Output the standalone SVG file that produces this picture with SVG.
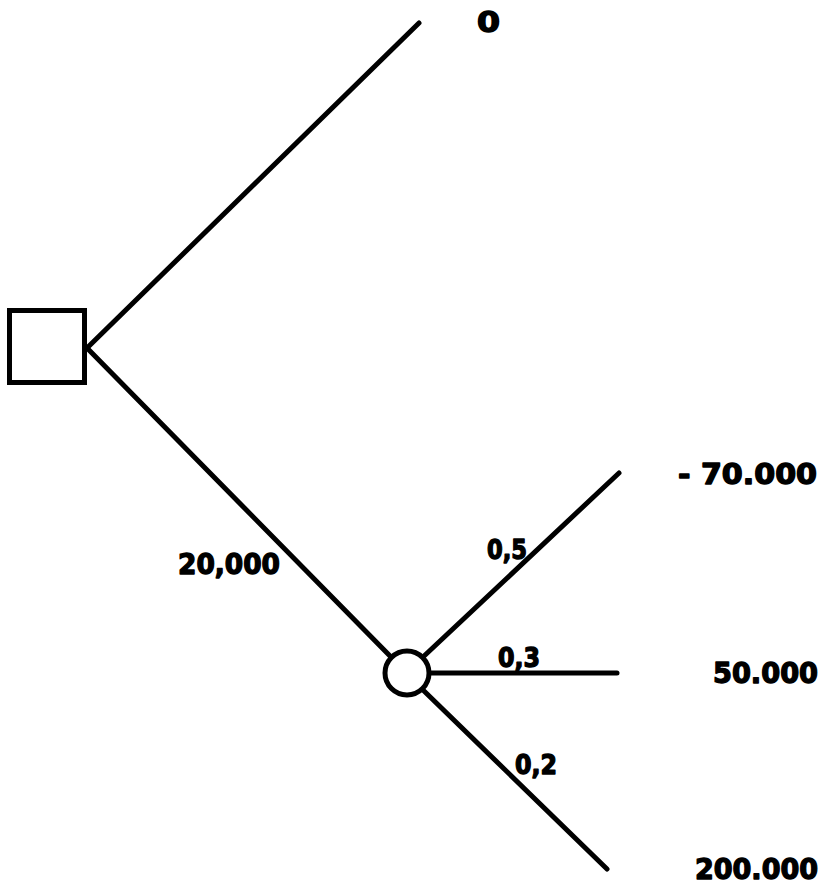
<svg xmlns="http://www.w3.org/2000/svg" width="827" height="887" viewBox="0 0 827 887">
  <style>
    .edge { stroke: #000; stroke-width: 5; stroke-linecap: round; fill: none; }
    .node { stroke: #000; stroke-width: 5; fill: #fff; }
    .lbl { font-family: "DejaVu Sans", "Liberation Sans", sans-serif; font-weight: bold; font-size: 29px; fill: #000; stroke: #000; stroke-width: 1.4; stroke-linejoin: round; }
    .prob { font-size: 27px; }
  </style>
  <rect width="827" height="887" fill="#fff"/>

  <!-- branches -->
  <g id="connectors">
    <line class="edge" x1="87" y1="348" x2="419" y2="23"/>
    <line class="edge" x1="87" y1="348" x2="392" y2="658"/>
    <line class="edge" x1="423" y1="657" x2="619" y2="473"/>
    <line class="edge" x1="429" y1="673" x2="617" y2="673"/>
    <line class="edge" x1="423" y1="690" x2="607" y2="869"/>
  </g>

  <!-- decision node -->
  <g id="decision">
    <rect class="node" x="9.5" y="310.5" width="75" height="72"/>
  </g>

  <!-- chance node -->
  <g id="chance">
    <circle class="node" cx="407" cy="673" r="22"/>
  </g>

  <!-- branch labels -->
  <g id="label-cost">
    <text class="lbl" x="178" y="574" textLength="102" lengthAdjust="spacingAndGlyphs">20,000</text>
  </g>
  <g id="label-p05">
    <text class="lbl prob" x="487" y="559" textLength="40" lengthAdjust="spacingAndGlyphs">0,5</text>
  </g>
  <g id="label-p03">
    <text class="lbl prob" x="498" y="667" textLength="42" lengthAdjust="spacingAndGlyphs">0,3</text>
  </g>
  <g id="label-p02">
    <text class="lbl prob" x="515" y="774" textLength="42" lengthAdjust="spacingAndGlyphs">0,2</text>
  </g>

  <!-- payoffs -->
  <g id="payoff-0">
    <text class="lbl" x="477" y="32" textLength="23" lengthAdjust="spacingAndGlyphs">0</text>
  </g>
  <g id="payoff-minus70000">
    <text class="lbl" x="678" y="484" textLength="139" lengthAdjust="spacingAndGlyphs">- 70.000</text>
  </g>
  <g id="payoff-50000">
    <text class="lbl" x="713" y="683" textLength="105" lengthAdjust="spacingAndGlyphs">50.000</text>
  </g>
  <g id="payoff-200000">
    <text class="lbl" x="695" y="879" textLength="123" lengthAdjust="spacingAndGlyphs">200.000</text>
  </g>
</svg>
